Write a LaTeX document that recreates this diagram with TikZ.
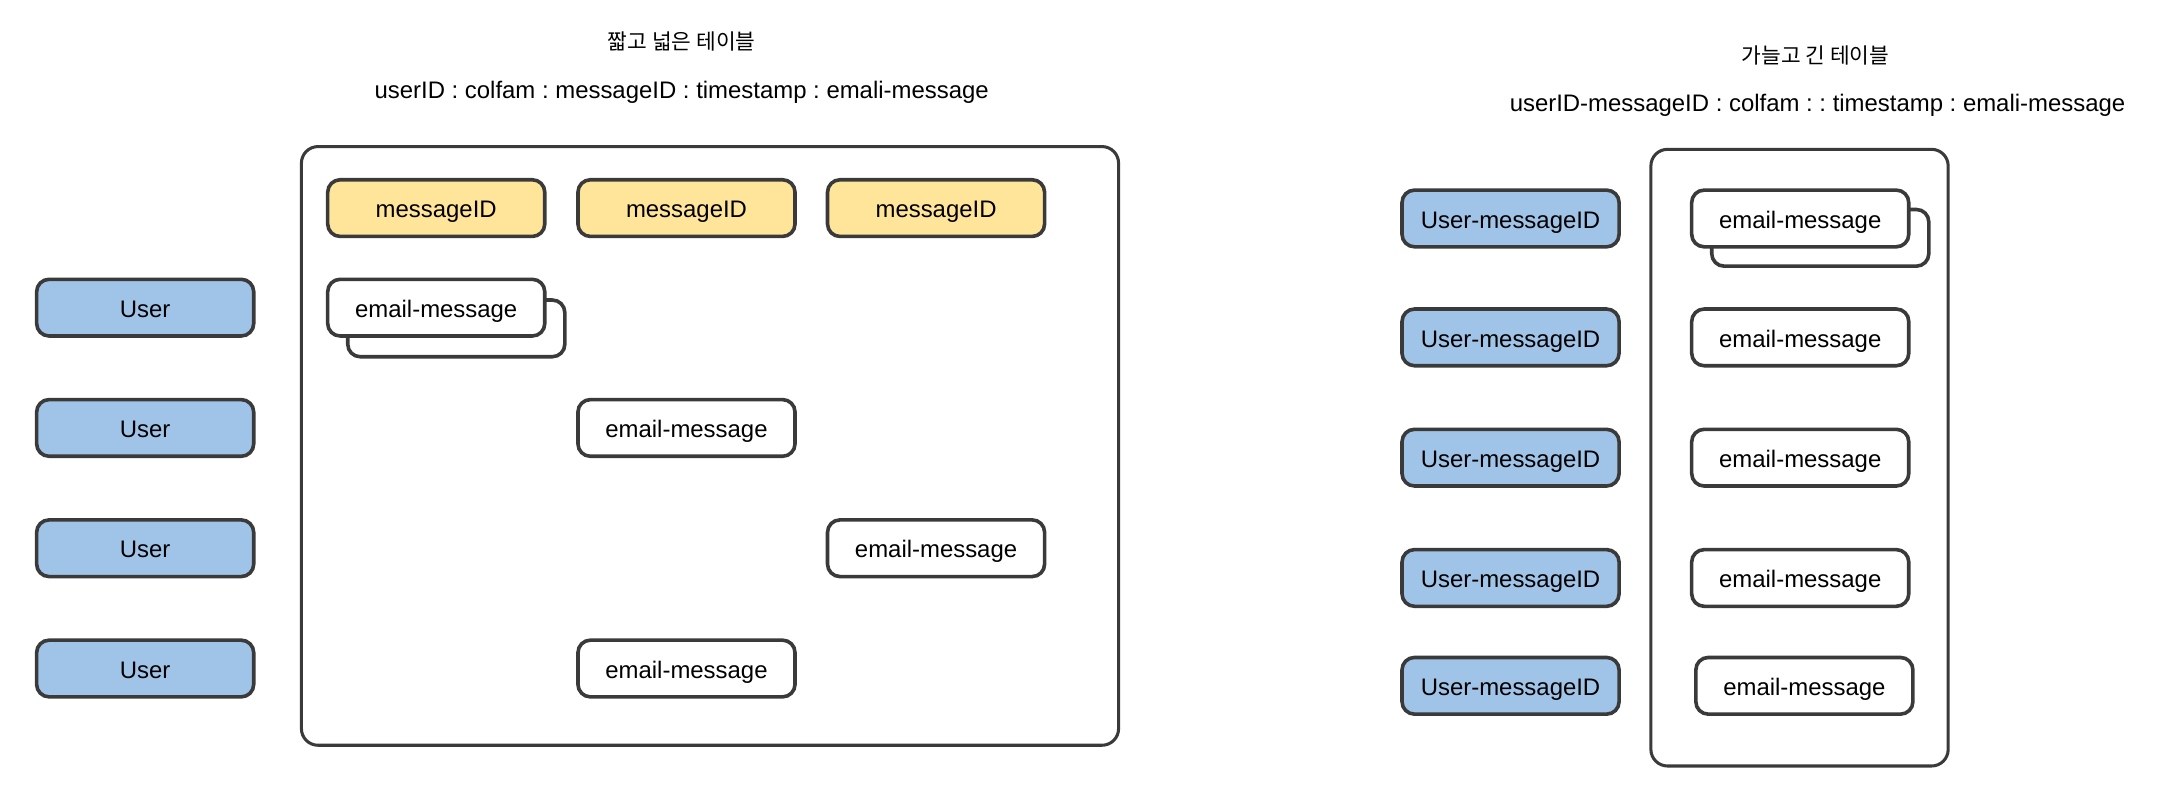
\documentclass[tikz,border=0pt]{standalone}
\usepackage{fontspec}
\setmainfont{Liberation Sans}
\newfontfamily\kr{Noto Sans CJK KR}
\definecolor{bord}{HTML}{3A3A3A}
\definecolor{bluef}{HTML}{A0C4E8}
\definecolor{yellf}{HTML}{FFE599}
\tikzset{
  cell/.style={draw=bord, line width=2.6pt, rounded corners=9pt, minimum width=157pt, minimum height=41pt, inner sep=0pt, text height=15.5pt, text depth=1.5pt, font=\fontsize{17.3}{20}\selectfont},
  ucell/.style={cell, fill=bluef},
  ycell/.style={cell, fill=yellf},
  wcell/.style={cell, fill=white},
  frame/.style={draw=bord, line width=2.2pt, rounded corners=12pt, inner sep=0pt},
  ttl/.style={font=\kr\fontsize{15.5}{18}\selectfont, inner sep=0pt},
  sub/.style={font=\fontsize{17.3}{20}\selectfont, inner sep=0pt}
}
\frenchspacing
\begin{document}
\frenchspacing
\begin{tikzpicture}[x=1pt,y={(0pt,-1pt)}]
\useasboundingbox (0,0) rectangle (1568,578.5);
% left side
\node[ttl] (t1) at (493,30) {짧고 넓은 테이블};
\node[sub] (s1) at (493,67) {userID : colfam : messageID : timestamp : emali-message};
\node[frame, minimum width=591pt, minimum height=433pt] (f1) at (513.5,322.5) {};
\node[ycell] (m1) at (315.5,150.5) {messageID};
\node[ycell] (m2) at (496.5,150.5) {messageID};
\node[ycell] (m3) at (677,150.5) {messageID};
\node[ucell] (u1) at (105,222.5) {User};
\node[ucell] (u2) at (105,309.5) {User};
\node[ucell] (u3) at (105,396.5) {User};
\node[ucell] (u4) at (105,483.5) {User};
\node[wcell] (e1b) at (330,237.5) {};
\node[wcell] (e1) at (315.5,222.5) {email-message};
\node[wcell] (e2) at (496.5,309.5) {email-message};
\node[wcell] (e3) at (677,396.5) {email-message};
\node[wcell] (e4) at (496.5,483.5) {email-message};
% right side
\node[ttl] (t2) at (1313,40) {가늘고 긴 테이블};
\node[sub] (s2) at (1314.5,76) {userID-messageID : colfam : : timestamp : emali-message};
\node[frame, minimum width=215pt, minimum height=446pt] (f2) at (1301.5,331) {};
\node[ucell] (k1) at (1092.5,158) {User-messageID};
\node[ucell] (k2) at (1092.5,244) {User-messageID};
\node[ucell] (k3) at (1092.5,331) {User-messageID};
\node[ucell] (k4) at (1092.5,418) {User-messageID};
\node[ucell] (k5) at (1092.5,496) {User-messageID};
\node[wcell] (r1b) at (1316.5,172) {};
\node[wcell] (r1) at (1302,158) {email-message};
\node[wcell] (r2) at (1302,244) {email-message};
\node[wcell] (r3) at (1302,331) {email-message};
\node[wcell] (r4) at (1302,418) {email-message};
\node[wcell] (r5) at (1305,496) {email-message};
\end{tikzpicture}
\end{document}
